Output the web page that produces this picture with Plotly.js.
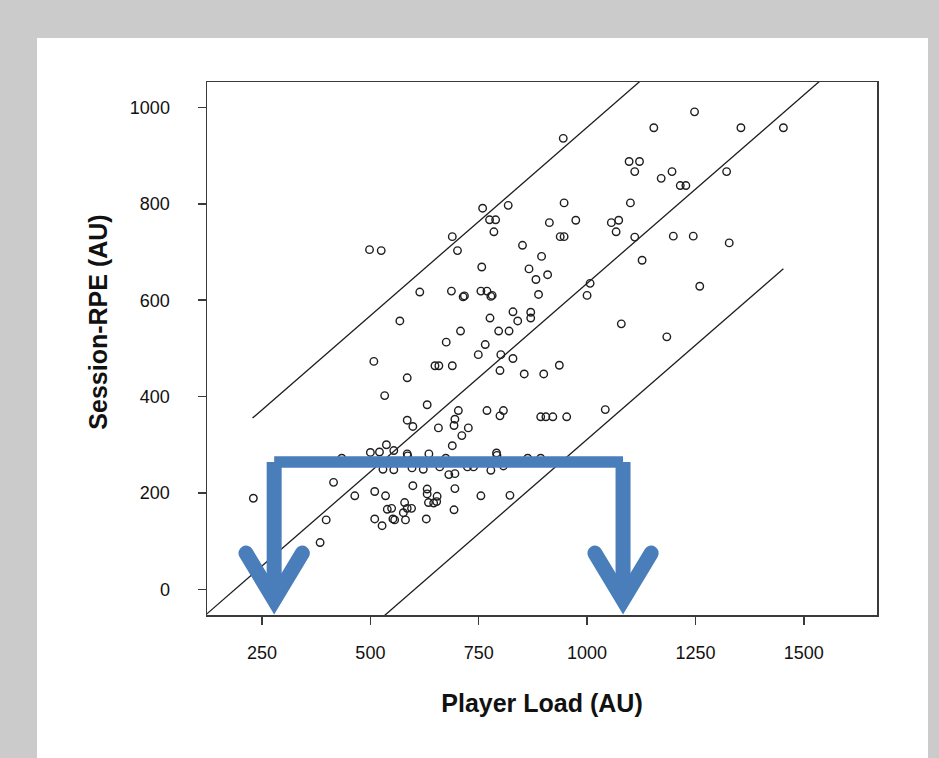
<!DOCTYPE html>
<html>
<head>
<meta charset="utf-8">
<script src="https://cdn.plot.ly/plotly-3.0.1.min.js"></script>
<style>
  html, body { margin: 0; padding: 0; background: #cbcbcb; width: 939px; height: 758px; overflow: hidden; }
  #panel { position: absolute; left: 37px; top: 38px; width: 891px; height: 720px; background: #ffffff; }
  #chart { position: absolute; left: 0; top: 0; width: 939px; height: 758px; }
</style>
</head>
<body>
<div id="panel"></div>
<div id="chart"></div>
<script>
// ---- Data (Player Load vs Session-RPE) ----
const playerLoad = [
  498, 525, 759, 818, 775, 789, 785, 689, 701, 757, 614, 687, 714, 717, 755, 769, 778, 781, 568, 829, 840, 776,
  851, 945, 1248, 1154, 1355, 1453, 1097, 1121, 1110, 1196, 1171, 1215, 1228, 1322, 947, 1100, 913, 974, 1056, 1073,
  1067, 938, 947, 1110, 1199, 1245, 1328, 895, 866, 882, 909, 1127, 888, 1007, 1000, 1260, 870, 870, 1079,
  708, 796, 820, 675, 765, 749, 801, 829, 508, 649, 658, 689, 799, 585, 533, 631, 703, 769, 799, 807,
  585, 598, 695, 693, 657, 726, 711, 689, 537, 554, 500, 521, 585, 586, 635, 674, 791, 792, 434,
  529, 554, 596, 622, 660, 681, 695, 724, 738, 778, 807, 863, 893,
  415, 598, 631, 631, 695, 230, 464, 510, 535, 755, 822, 654, 653, 634, 646, 539, 549, 579, 585, 595, 576,
  693, 398, 510, 552, 556, 581, 629, 527, 384,
  1184, 855, 900, 936, 893, 905, 921, 953, 1042
];
const sessionRPE = [
  705, 703, 791, 797, 767, 767, 742, 732, 703, 669, 617, 619, 607, 609, 619, 619, 608, 610, 557, 576, 557, 563,
  714, 936, 991, 958, 958, 958, 888, 888, 867, 867, 853, 838, 838, 867, 802, 802, 761, 766, 761, 766,
  742, 732, 732, 731, 733, 733, 719, 691, 665, 643, 653, 683, 612, 635, 610, 629, 575, 563, 551,
  536, 536, 536, 513, 508, 487, 487, 479, 473, 464, 464, 464, 454, 439, 402, 383, 371, 371, 360, 371,
  351, 338, 353, 340, 335, 335, 319, 298, 300, 288, 284, 285, 281, 277, 281, 272, 283, 278, 272,
  249, 248, 252, 249, 254, 238, 240, 254, 254, 247, 256, 272, 272,
  222, 215, 208, 198, 209, 189, 194, 203, 194, 194, 195, 193, 182, 180, 179, 166, 168, 180, 168, 168, 159,
  165, 144, 146, 146, 144, 144, 146, 132, 97,
  524, 447, 447, 465, 358, 358, 358, 358, 373
];

// Regression line and prediction limits
const fitSlope = 0.782;
const fitIntercept = -147;
const limitBand = 324;
const fitLineX = [100, 1700];
const limitLineX = [228, 1453];

// Tick labels
const xTicks = [250, 500, 750, 1000, 1250, 1500];
const yTicks = [0, 200, 400, 600, 800, 1000];

// Blue bracket-arrow overlay (data units: Player Load / Session-RPE)
const arrowStemX = [278, 1083];
const arrowBarY = 264;
const arrowStemBottomY = -2;
const arrowTipY = -22;
const arrowArmTopY = 75;
const arrowArmHalf = 65;

const xRange = [123, 1669];
const yRange = [-53.4, 1053];

const line = (xs, off) => xs.map(x => fitSlope * x + fitIntercept + off);

const ink = '#1e1e1e';
const blue = 'rgb(74,126,187)';
const font = 'Liberation Sans, Arial, Helvetica, sans-serif';

const traces = [
  { x: fitLineX, y: line(fitLineX, 0), mode: 'lines', line: { color: ink, width: 1.3 }, hoverinfo: 'skip' },
  { x: limitLineX, y: line(limitLineX, limitBand), mode: 'lines', line: { color: ink, width: 1.3 }, hoverinfo: 'skip' },
  { x: limitLineX, y: line(limitLineX, -limitBand), mode: 'lines', line: { color: ink, width: 1.3 }, hoverinfo: 'skip' },
  { x: playerLoad, y: sessionRPE, mode: 'markers', type: 'scatter',
    marker: { symbol: 'circle-open', size: 7.5, color: ink, line: { width: 1.4, color: ink } } }
];

const shapes = [];
// horizontal bar
shapes.push({ type: 'path', xref: 'x', yref: 'y',
  path: `M ${arrowStemX[0]},${arrowBarY} L ${arrowStemX[1]},${arrowBarY}`,
  line: { color: blue, width: 11.5 } });
arrowStemX.forEach(sx => {
  shapes.push({ type: 'path', xref: 'x', yref: 'y',
    path: `M ${sx},${arrowBarY} L ${sx},${arrowStemBottomY}`,
    line: { color: blue, width: 15 } });
  shapes.push({ type: 'path', xref: 'x', yref: 'y',
    path: `M ${sx - arrowArmHalf},${arrowArmTopY} L ${sx},${arrowTipY} L ${sx + arrowArmHalf},${arrowArmTopY}`,
    line: { color: blue, width: 15 } });
});

const axisCommon = {
  showgrid: false, zeroline: false, showline: true, mirror: true,
  linecolor: '#3a3a3a', linewidth: 1.5,
  ticks: 'outside', ticklen: 8, tickwidth: 1.5, tickcolor: '#3a3a3a',
  tickfont: { family: font, size: 18, color: '#111111' }
};

const layout = {
  width: 939, height: 758,
  margin: { l: 207, r: 62, t: 82, b: 143 },
  paper_bgcolor: 'rgba(0,0,0,0)',
  plot_bgcolor: '#ffffff',
  showlegend: false,
  xaxis: Object.assign({}, axisCommon, {
    range: xRange, tickvals: xTicks, ticktext: xTicks.map(String), ticklabelstandoff: 13,
    title: { text: 'Player Load (AU)', font: { family: font, size: 25, color: '#111', weight: 'bold' }, standoff: 32 }
  }),
  yaxis: Object.assign({}, axisCommon, {
    range: yRange, tickvals: yTicks, ticktext: yTicks.map(String), ticklabelstandoff: 24,
    title: { text: '' }
  }),
  annotations: [{
    text: 'Session-RPE (AU)', textangle: -90, showarrow: false,
    xref: 'paper', yref: 'paper', x: -0.163, y: 0.55, xanchor: 'center', yanchor: 'middle',
    font: { family: font, size: 25, color: '#111', weight: 'bold' }
  }],
  shapes: shapes
};

Plotly.newPlot('chart', traces, layout, { displayModeBar: false, staticPlot: true }).then(() => {
  document.querySelectorAll('.shapelayer path').forEach(p => {
    const idx = +p.getAttribute('data-index');
    if (idx === 2 || idx === 4) {
      p.style.strokeLinecap = 'round';
      p.style.strokeLinejoin = 'miter';
    }
  });
});
</script>
</body>
</html>
